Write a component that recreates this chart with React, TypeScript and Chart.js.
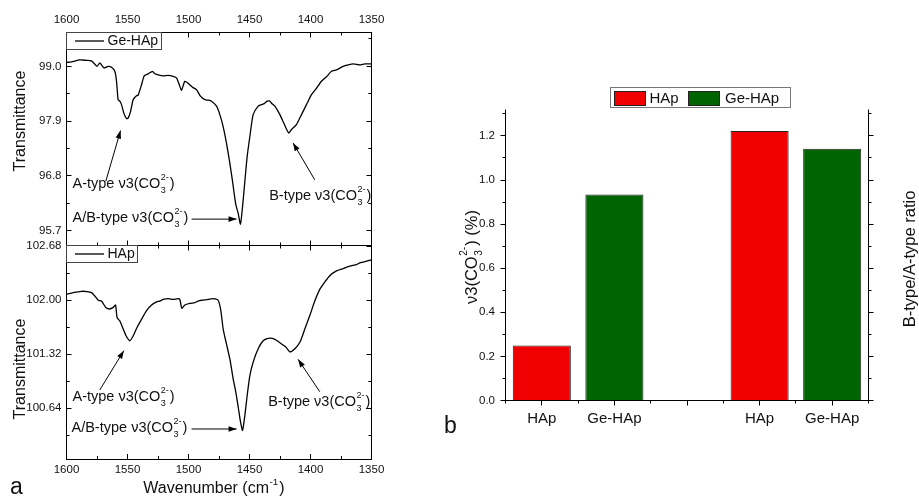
import React, { useEffect, useRef } from 'react';
import { Chart, registerables } from 'chart.js';

Chart.register(...registerables);

const FONT = "Arial, 'Liberation Sans', Helvetica, sans-serif";
const INK = '#111';

// ---------- Data: FTIR spectra ----------
const wavenumberTicks = [1600, 1550, 1500, 1450, 1400, 1350];

const geWavenumber = [
  1600, 1595.9, 1589.1, 1583.6, 1579.5, 1574.9, 1572.7, 1569.4, 1565.8, 1563.1,
  1560.4, 1559.0, 1557.7, 1556.3, 1554.9, 1553.0, 1550.8, 1549.5, 1547.5, 1545.4,
  1542.6, 1541.3, 1538.5, 1536.3, 1533.1, 1529.5, 1527.6, 1524.9, 1520.8, 1516.7,
  1512.6, 1509.8, 1507.7, 1505.7, 1503.0, 1500.3, 1496.7, 1493.4, 1490.2, 1486.6,
  1483.9, 1481.1, 1477.0, 1474.3, 1471.6, 1468.9, 1466.1, 1463.9, 1462.6, 1461.2,
  1459.3, 1457.4, 1455.7, 1453.8, 1451.9, 1449.7, 1447.0, 1442.9, 1440.2, 1438.0,
  1435.5, 1433.3, 1432.0, 1429.2, 1425.1, 1421.0, 1417.8, 1415.6, 1411.5, 1407.4,
  1403.3, 1399.2, 1395.1, 1391.0, 1386.9, 1382.8, 1378.7, 1373.2, 1369.1, 1365.0,
  1359.6, 1355.5, 1350.0,
];
const geTransmittance = [
  99.08, 99.09, 99.13, 99.12, 99.11, 99.0, 99.07, 98.97, 99.0, 98.98,
  98.9, 98.7, 98.33, 98.3, 98.23, 98.06, 97.95, 97.96, 98.09, 98.33,
  98.41, 98.42, 98.63, 98.81, 98.85, 98.9, 98.85, 98.83, 98.81, 98.82,
  98.8, 98.77, 98.64, 98.52, 98.7, 98.66, 98.58, 98.53, 98.4, 98.33,
  98.32, 98.3, 98.2, 98.03, 97.79, 97.46, 97.05, 96.69, 96.45, 96.22,
  96.05, 95.83, 96.18, 96.69, 97.19, 97.59, 98.03, 98.2, 98.23, 98.25,
  98.3, 98.3, 98.26, 98.2, 98.03, 97.81, 97.66, 97.73, 97.83, 98.03,
  98.23, 98.43, 98.56, 98.7, 98.79, 98.9, 98.93, 99.0, 99.03, 99.05,
  99.03, 99.05, 99.05,
];
const geYTicks = [95.7, 96.8, 97.9, 99.0];

const hapWavenumber = [
  1600, 1594.5, 1587.7, 1583.1, 1579.5, 1576.8, 1574.0, 1571.3, 1567.8, 1564.5,
  1561.7, 1559.8, 1558.5, 1556.3, 1554.1, 1551.4, 1548.1, 1545.4, 1542.1, 1538.5,
  1534.4, 1530.3, 1526.2, 1523.5, 1520.8, 1516.7, 1512.6, 1508.5, 1507.1, 1505.5,
  1503.0, 1498.9, 1494.8, 1492.1, 1489.3, 1483.9, 1479.8, 1475.7, 1473.5, 1471.6,
  1468.9, 1466.1, 1463.4, 1461.2, 1459.0, 1457.4, 1455.7, 1453.8, 1451.9, 1449.7,
  1447.0, 1442.9, 1438.8, 1434.7, 1431.2, 1427.3, 1423.8, 1420.2, 1416.9, 1412.8,
  1408.7, 1404.6, 1400.5, 1396.5, 1392.3, 1388.3, 1384.2, 1378.7, 1373.2, 1367.8,
  1362.3, 1359.6, 1356.8, 1350.0,
];
const hapTransmittance = [
  102.075, 102.096, 102.113, 102.109, 102.096, 102.054, 102.0, 101.99, 101.91, 101.89,
  101.91, 101.94, 101.78, 101.74, 101.66, 101.56, 101.49, 101.55, 101.66, 101.76,
  101.87, 101.94, 101.98, 101.99, 102.01, 102.02, 102.01, 102.02, 102.01, 101.9,
  101.94, 101.96, 101.97, 101.99, 102.0, 102.01, 102.02, 102.0, 101.87, 101.64,
  101.45, 101.26, 101.01, 100.84, 100.63, 100.47, 100.36, 100.55, 100.8, 101.05,
  101.22, 101.39, 101.49, 101.52, 101.52, 101.49, 101.45, 101.41, 101.35, 101.39,
  101.47, 101.64, 101.81, 101.99, 102.14, 102.23, 102.31, 102.37, 102.4, 102.43,
  102.45, 102.47, 102.48, 102.51,
];
const hapYTicks = [100.64, 101.32, 102.0, 102.68];

// ---------- Data: bar chart ----------
const barCategories = ['HAp', 'Ge-HAp', '', 'HAp', 'Ge-HAp'];
const hapBarValues = [0.25, null, null, 1.222, null];
const geBarValues = [null, 0.935, null, null, 1.142];
const barYTicks = [0, 0.2, 0.4, 0.6, 0.8, 1.0, 1.2];

// ---------- text helpers ----------
type Part = { t: string; sub?: string; sup?: string };

const co3 = (prefix: string): Part[] => [{ t: prefix + 'ν3(CO', sub: '3', sup: '2-' }, { t: ')' }];

function partsWidth(ctx: CanvasRenderingContext2D, parts: Part[], size: number) {
  let w = 0;
  for (const p of parts) {
    ctx.font = `${size}px ${FONT}`;
    w += ctx.measureText(p.t).width;
    if (p.sub || p.sup) {
      ctx.font = `${size * 0.62}px ${FONT}`;
      w += Math.max(p.sub ? ctx.measureText(p.sub).width : 0, p.sup ? ctx.measureText(p.sup).width : 0) + 1.5;
    }
  }
  return w;
}

function drawParts(ctx: CanvasRenderingContext2D, parts: Part[], x: number, y: number, size: number, align: 'left' | 'center' = 'left') {
  let cx = align === 'center' ? x - partsWidth(ctx, parts, size) / 2 : x;
  ctx.textBaseline = 'middle';
  ctx.textAlign = 'left';
  ctx.fillStyle = INK;
  for (const p of parts) {
    ctx.font = `${size}px ${FONT}`;
    ctx.fillText(p.t, cx, y);
    cx += ctx.measureText(p.t).width;
    if (p.sub || p.sup) {
      ctx.font = `${size * 0.62}px ${FONT}`;
      let w = 0;
      if (p.sub) { ctx.fillText(p.sub, cx + 0.5, y + size * 0.45); w = Math.max(w, ctx.measureText(p.sub).width); }
      if (p.sup) { ctx.fillText(p.sup, cx + 0.5, y - size * 0.45); w = Math.max(w, ctx.measureText(p.sup).width); }
      cx += w + 1.5;
    }
  }
}

function arrow(ctx: CanvasRenderingContext2D, x1: number, y1: number, x2: number, y2: number) {
  ctx.beginPath();
  ctx.moveTo(x1, y1);
  ctx.lineTo(x2, y2);
  ctx.stroke();
  const a = Math.atan2(y2 - y1, x2 - x1);
  const L = 8, W = 2.8;
  ctx.beginPath();
  ctx.moveTo(x2, y2);
  ctx.lineTo(x2 - L * Math.cos(a) + W * Math.sin(a), y2 - L * Math.sin(a) - W * Math.cos(a));
  ctx.lineTo(x2 - L * Math.cos(a) - W * Math.sin(a), y2 - L * Math.sin(a) + W * Math.cos(a));
  ctx.closePath();
  ctx.fill();
}

function seg(ctx: CanvasRenderingContext2D, x1: number, y1: number, x2: number, y2: number) {
  ctx.beginPath();
  ctx.moveTo(x1, y1);
  ctx.lineTo(x2, y2);
  ctx.stroke();
}

const crisp = (v: number) => Math.round(v - 0.5) + 0.5;

// ---------- spectrum chart ----------
type Ann = {
  labels: { parts: Part[]; x: number; y: number }[];
  arrows: { from: [number, number]; to: [number, number] }[];
};

type SpecOpts = {
  wn: number[];
  tr: number[];
  name: string;
  yMin: number;
  yMax: number;
  yTicks: number[];
  decimals: number;
  xPos: 'top' | 'bottom';
  W: number;
  H: number;
  area: { left: number; top: number; right: number; bottom: number };
  ann: Ann;
  titleY: number;
  bottomTitle: boolean;
};

function spectrumConfig(o: SpecOpts): any {
  const deco = {
    id: 'specDeco',
    afterDraw(chart: any) {
      const { ctx, chartArea: a, scales } = chart;
      const x = scales.x, y = scales.y;
      ctx.save();
      ctx.strokeStyle = '#000';
      ctx.fillStyle = '#000';
      ctx.lineWidth = 1;
      // frame
      ctx.strokeRect(crisp(a.left), crisp(a.top), Math.round(a.right - a.left), Math.round(a.bottom - a.top));
      // x ticks (inward on top and bottom)
      const xt = [...wavenumberTicks].sort((p, q) => p - q);
      const xs: { v: number; major: boolean }[] = [];
      xt.forEach((v, i) => {
        xs.push({ v, major: true });
        if (i < xt.length - 1) xs.push({ v: (v + xt[i + 1]) / 2, major: false });
      });
      for (const t of xs) {
        const px = crisp(x.getPixelForValue(t.v));
        const len = t.major ? 5 : 3;
        seg(ctx, px, a.top, px, a.top + len);
        seg(ctx, px, a.bottom, px, a.bottom - len);
      }
      // y ticks (inward on left and right)
      const step = o.yTicks[1] - o.yTicks[0];
      const ys: { v: number; major: boolean }[] = [];
      o.yTicks.forEach((v) => {
        ys.push({ v, major: true });
        ys.push({ v: v + step / 2, major: false });
        ys.push({ v: v - step / 2, major: false });
      });
      for (const t of ys) {
        if (t.v < o.yMin || t.v > o.yMax) continue;
        const py = crisp(y.getPixelForValue(t.v));
        const len = t.major ? 5 : 3;
        seg(ctx, a.left, py, a.left + len, py);
        seg(ctx, a.right, py, a.right - len, py);
      }
      // legend
      ctx.font = `14px ${FONT}`;
      const tw = ctx.measureText(o.name).width;
      const bh = 17;
      ctx.fillStyle = '#fff';
      ctx.fillRect(a.left, a.top, 41 + tw + 3, bh);
      ctx.strokeStyle = '#444';
      ctx.strokeRect(crisp(a.left), crisp(a.top), Math.round(41 + tw + 3), bh);
      ctx.strokeStyle = '#000';
      ctx.lineWidth = 1.3;
      seg(ctx, a.left + 8.5, a.top + bh / 2, a.left + 37.5, a.top + bh / 2);
      ctx.fillStyle = INK;
      ctx.textBaseline = 'middle';
      ctx.textAlign = 'left';
      ctx.fillText(o.name, a.left + 41, a.top + bh / 2 + 0.5);
      // annotations
      ctx.lineWidth = 1;
      ctx.fillStyle = '#000';
      for (const ar of o.ann.arrows) {
        arrow(ctx, x.getPixelForValue(ar.from[0]), y.getPixelForValue(ar.from[1]), x.getPixelForValue(ar.to[0]), y.getPixelForValue(ar.to[1]));
      }
      for (const lb of o.ann.labels) {
        drawParts(ctx, lb.parts, x.getPixelForValue(lb.x), y.getPixelForValue(lb.y), 14.5);
      }
      // y title
      ctx.save();
      ctx.translate(21, o.titleY);
      ctx.rotate(-Math.PI / 2);
      ctx.fillStyle = INK;
      ctx.font = `16px ${FONT}`;
      ctx.textAlign = 'center';
      ctx.textBaseline = 'middle';
      ctx.fillText('Transmittance', 0, 0);
      ctx.restore();
      if (o.bottomTitle) {
        drawParts(ctx, [{ t: 'Wavenumber (cm', sup: '-1' }, { t: ')' }], 214, a.bottom + 30, 16, 'center');
        ctx.font = `23px ${FONT}`;
        ctx.fillStyle = INK;
        ctx.textAlign = 'left';
        ctx.textBaseline = 'middle';
        ctx.fillText('a', 10, a.bottom + 29);
      }
      ctx.restore();
    },
  };

  const a = o.area;
  return {
    type: 'line',
    data: {
      datasets: [
        {
          label: o.name,
          data: o.wn.map((w, i) => ({ x: w, y: o.tr[i] })),
          borderColor: '#000',
          borderWidth: 1.3,
          pointRadius: 0,
          tension: 0.2,
          fill: false,
        },
      ],
    },
    options: {
      animation: false,
      responsive: false,
      events: [],
      layout: {
        padding: {
          left: 0,
          right: o.W - a.right,
          top: o.xPos === 'top' ? 0 : a.top,
          bottom: o.xPos === 'bottom' ? 0 : o.H - a.bottom,
        },
      },
      plugins: { legend: { display: false }, tooltip: { enabled: false } },
      scales: {
        x: {
          type: 'linear',
          position: o.xPos,
          reverse: true,
          min: 1350,
          max: 1600,
          grid: { display: false, drawTicks: false },
          border: { display: false },
          ticks: {
            color: INK,
            font: { family: FONT, size: 11.5 },
            padding: o.xPos === 'top' ? 5.6 : 3.5,
            maxRotation: 0,
            minRotation: 0,
            autoSkip: false,
            callback: (v: any) => String(v),
          },
          afterBuildTicks: (s: any) => { s.ticks = wavenumberTicks.map((v) => ({ value: v })); },
          afterFit: (s: any) => {
            s.height = o.xPos === 'top' ? a.top : o.H - a.bottom;
            s.paddingLeft = 0; s.paddingRight = 0;
          },
        },
        y: {
          type: 'linear',
          position: 'left',
          min: o.yMin,
          max: o.yMax,
          grid: { display: false, drawTicks: false },
          border: { display: false },
          ticks: {
            color: INK,
            font: { family: FONT, size: 11.5 },
            padding: 5,
            callback: (v: any) => Number(v).toFixed(o.decimals),
          },
          afterBuildTicks: (s: any) => { s.ticks = o.yTicks.map((v) => ({ value: v })); },
          afterFit: (s: any) => { s.width = a.left; s.paddingTop = 0; s.paddingBottom = 0; },
        },
      },
    },
    plugins: [deco],
  };
}

// ---------- bar chart ----------
function barConfig(): any {
  const W = 489, H = 441;
  const area = { left: 75.5, top: 49.5, right: 438.5, bottom: 340.5 };
  const deco = {
    id: 'barDeco',
    afterDraw(chart: any) {
      const { ctx, chartArea: a, scales } = chart;
      const x = scales.x, y = scales.y;
      ctx.save();
      ctx.strokeStyle = '#000';
      ctx.lineWidth = 1;
      const L = crisp(a.left), R = crisp(a.right), B = crisp(a.bottom), T = a.top;
      seg(ctx, L, T, L, B + 0.5);
      seg(ctx, R, T, R, B + 0.5);
      seg(ctx, L - 0.5, B, R + 0.5, B);
      // y ticks outward
      const step = barYTicks[1] - barYTicks[0];
      const vals: { v: number; major: boolean }[] = [];
      barYTicks.forEach((v) => { vals.push({ v, major: true }); vals.push({ v: v + step / 2, major: false }); });
      for (const t of vals) {
        if (t.v > y.max + 1e-9) continue;
        const py = crisp(y.getPixelForValue(t.v));
        const len = t.major ? 5 : 3;
        seg(ctx, L, py, L - len, py);
        seg(ctx, R, py, R + len, py);
      }
      // x ticks outward
      const n = barCategories.length;
      const cw = (a.right - a.left) / n;
      for (let i = 0; i < n; i++) {
        const cx = crisp(x.getPixelForValue(i));
        seg(ctx, cx, B, cx, B + 5);
      }
      for (let i = 0; i <= n; i++) {
        const bx = crisp(a.left + i * cw);
        seg(ctx, bx, B, bx, B + 3);
      }
      // legend
      ctx.strokeStyle = '#777';
      ctx.strokeRect(180.5, 27.5, 180, 20);
      const sw = [
        { c: '#F00000', lx: 184.5, tx: 219.5, t: 'HAp' },
        { c: '#006400', lx: 258.5, tx: 295, t: 'Ge-HAp' },
      ];
      for (const s of sw) {
        ctx.fillStyle = s.c;
        ctx.fillRect(s.lx, 31.5, 31, 14);
        ctx.strokeStyle = '#222';
        ctx.strokeRect(s.lx, 31.5, 31, 14);
        ctx.fillStyle = INK;
        ctx.font = `15px ${FONT}`;
        ctx.textAlign = 'left';
        ctx.textBaseline = 'middle';
        ctx.fillText(s.t, s.tx, 39);
      }
      // titles
      ctx.save();
      ctx.translate(42, 197);
      ctx.rotate(-Math.PI / 2);
      drawParts(ctx, [{ t: 'ν3(CO', sub: '3', sup: '2-' }, { t: ') (%)' }], 0, 0, 16.5, 'center');
      ctx.restore();
      ctx.save();
      ctx.translate(480, 199);
      ctx.rotate(-Math.PI / 2);
      ctx.fillStyle = INK;
      ctx.font = `16.5px ${FONT}`;
      ctx.textAlign = 'center';
      ctx.textBaseline = 'middle';
      ctx.fillText('B-type/A-type ratio', 0, 0);
      ctx.restore();
      ctx.fillStyle = INK;
      ctx.font = `23px ${FONT}`;
      ctx.textAlign = 'left';
      ctx.textBaseline = 'middle';
      ctx.fillText('b', 14, 367);
      ctx.restore();
    },
  };
  return {
    type: 'bar',
    data: {
      labels: barCategories,
      datasets: [
        { label: 'HAp', data: hapBarValues, backgroundColor: '#F00000', borderColor: '#222', borderWidth: 1, grouped: false, barPercentage: 0.8, categoryPercentage: 1 },
        { label: 'Ge-HAp', data: geBarValues, backgroundColor: '#006400', borderColor: '#222', borderWidth: 1, grouped: false, barPercentage: 0.8, categoryPercentage: 1 },
      ],
    },
    options: {
      animation: false,
      responsive: false,
      events: [],
      layout: { padding: { left: 0, top: area.top, right: W - area.right, bottom: 0 } },
      plugins: { legend: { display: false }, tooltip: { enabled: false } },
      scales: {
        x: {
          type: 'category',
          grid: { display: false, drawTicks: false },
          border: { display: false },
          ticks: { color: INK, font: { family: FONT, size: 15 }, padding: 9.5, maxRotation: 0, autoSkip: false },
          afterFit: (s: any) => { s.height = H - area.bottom; s.paddingLeft = 0; s.paddingRight = 0; },
        },
        y: {
          type: 'linear',
          min: 0,
          max: 1.32,
          grid: { display: false, drawTicks: false },
          border: { display: false },
          ticks: { color: INK, font: { family: FONT, size: 11.5 }, padding: 10.5, callback: (v: any) => Number(v).toFixed(1) },
          afterBuildTicks: (s: any) => { s.ticks = barYTicks.map((v) => ({ value: v })); },
          afterFit: (s: any) => { s.width = area.left; s.paddingTop = 0; s.paddingBottom = 0; },
        },
      },
    },
    plugins: [deco],
  };
}

const geAnn: Ann = {
  labels: [
    { parts: co3('A-type '), x: 1595.1, y: 96.64 },
    { parts: co3('B-type '), x: 1433.9, y: 96.39 },
    { parts: co3('A/B-type '), x: 1595.1, y: 95.96 },
  ],
  arrows: [
    { from: [1567.8, 96.69], to: [1555.7, 97.71] },
    { from: [1396.5, 96.72], to: [1414.3, 97.46] },
    { from: [1497.5, 95.93], to: [1460.6, 95.93] },
  ],
};

const hapAnn: Ann = {
  labels: [
    { parts: co3('A-type '), x: 1595.1, y: 100.785 },
    { parts: co3('B-type '), x: 1434.7, y: 100.714 },
    { parts: co3('A/B-type '), x: 1595.9, y: 100.387 },
  ],
  arrows: [
    { from: [1572.7, 100.87], to: [1553.0, 101.365] },
    { from: [1392.4, 100.848], to: [1410.2, 101.256] },
    { from: [1497.5, 100.378], to: [1460.6, 100.378] },
  ],
};

export default function App() {
  const topRef = useRef<HTMLCanvasElement>(null);
  const botRef = useRef<HTMLCanvasElement>(null);
  const barRef = useRef<HTMLCanvasElement>(null);

  useEffect(() => {
    const charts = [
      new Chart(topRef.current!, spectrumConfig({
        wn: geWavenumber, tr: geTransmittance, name: 'Ge-HAp',
        yMin: 95.4, yMax: 99.68, yTicks: geYTicks, decimals: 1,
        xPos: 'top', W: 390, H: 262,
        area: { left: 66.5, top: 32.5, right: 371.5, bottom: 245.5 },
        ann: geAnn, titleY: 121, bottomTitle: false,
      })),
      new Chart(botRef.current!, spectrumConfig({
        wn: hapWavenumber, tr: hapTransmittance, name: 'HAp',
        yMin: 100.0, yMax: 102.69, yTicks: hapYTicks, decimals: 2,
        xPos: 'bottom', W: 390, H: 269,
        area: { left: 66.5, top: 13.5, right: 371.5, bottom: 227 },
        ann: hapAnn, titleY: 369 - 232, bottomTitle: true,
      })),
      new Chart(barRef.current!, barConfig()),
    ];
    return () => charts.forEach((c) => c.destroy());
  }, []);

  return (
    <div style={{ position: 'absolute', left: 0, top: 0, width: 919, height: 501, background: '#fff', overflow: 'hidden' }}>
      <canvas ref={topRef} width={390} height={262} style={{ position: 'absolute', left: 0, top: 0 }} />
      <canvas ref={botRef} width={390} height={269} style={{ position: 'absolute', left: 0, top: 232 }} />
      <canvas ref={barRef} width={489} height={441} style={{ position: 'absolute', left: 430, top: 60 }} />
    </div>
  );
}
